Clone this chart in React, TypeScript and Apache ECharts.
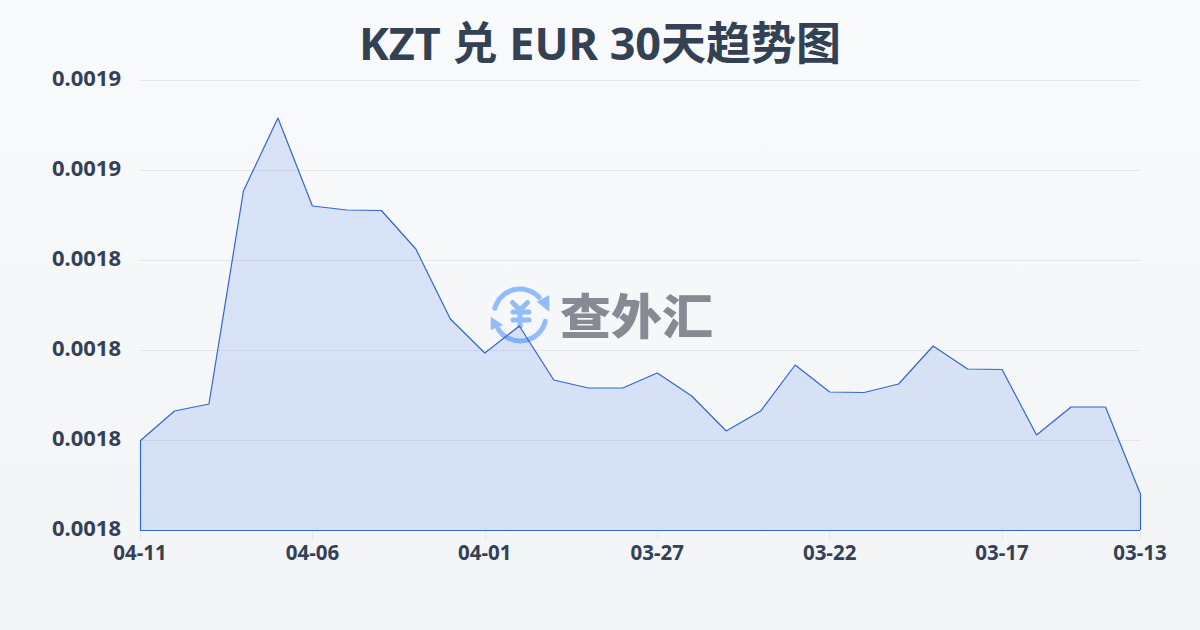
import React, { useEffect, useRef } from "react";
import * as echarts from "echarts";

const titleText = "KZT 兑 EUR 30天趋势图";
const watermarkText = "查外汇";
const dates = ["04-11","04-10","04-09","04-08","04-07","04-06","04-05","04-04","04-03","04-02","04-01","03-31","03-30","03-29","03-28","03-27","03-26","03-25","03-24","03-23","03-22","03-21","03-20","03-19","03-18","03-17","03-16","03-15","03-14","03-13"];
const rates = [0.00179978,0.00180644,0.001808,0.00185533,0.00187156,0.001852,0.00185111,0.001851,0.00184244,0.00182689,0.00181933,0.00182533,0.00181333,0.00181156,0.00181156,0.00181489,0.00180978,0.001802,0.00180644,0.00181667,0.00181067,0.00181056,0.00181244,0.00182089,0.00181578,0.00181567,0.00180111,0.00180733,0.00180733,0.00178822];
const yMin = 0.00178;
const yMax = 0.00188;
const yStep = 0.00002;

const FONT = "'Noto Sans','Noto Sans CJK SC',sans-serif";
const TEXT = "#334155";
const LINE = "#3366cc";
const LOGO = "#93bcfb";
const showTick = (i: number) => i % 5 === 0 || i === dates.length - 1;

const closure = (a: [string, number], b: [string, number]) => [
  { xAxis: a[0], yAxis: a[1] },
  { xAxis: b[0], yAxis: b[1] },
];

export default function App() {
  const ref = useRef<HTMLDivElement>(null);
  useEffect(() => {
    document.body.style.margin = "0";
    const chart = echarts.init(ref.current!, undefined, { renderer: "svg" });
    chart.setOption({
      animation: false,
      backgroundColor: {
        type: "linear", x: 0, y: 0, x2: 0, y2: 1,
        colorStops: [{ offset: 0, color: "#f8fafc" }, { offset: 1, color: "#f3f4f6" }],
      },
      title: {
        text: titleText, left: "center", top: 15,
        textStyle: { fontFamily: FONT, fontSize: 45, fontWeight: "bold", color: TEXT },
      },
      grid: { left: 140, right: 60, top: 80, bottom: 100 },
      xAxis: {
        type: "category", data: dates, boundaryGap: false,
        axisLine: { show: false },
        axisTick: { show: true, length: 10, interval: (i: number) => showTick(i), lineStyle: { color: "#e5e7eb" } },
        axisLabel: {
          interval: (i: number) => showTick(i), margin: 12, showMaxLabel: true,
          fontFamily: FONT, fontSize: 20.5, fontWeight: "bold", color: TEXT,
        },
        splitLine: { show: false },
      },
      yAxis: {
        type: "value", min: yMin, max: yMax, interval: yStep,
        axisLine: { show: false }, axisTick: { show: false },
        axisLabel: {
          margin: 19, verticalAlign: "bottom", lineHeight: 6, formatter: (v: number) => v.toFixed(4),
          fontFamily: FONT, fontSize: 22, fontWeight: "bold", color: TEXT,
        },
        splitLine: { lineStyle: { color: "#e5e7eb", width: 1 } },
      },
      series: [{
        type: "line", data: rates, symbol: "none", z: 3,
        lineStyle: { color: LINE, width: 1.2 },
        areaStyle: { color: "#2563eb", opacity: 0.14 },
        markLine: {
          silent: true, symbol: "none", label: { show: false },
          lineStyle: { color: LINE, width: 1.2, type: "solid" },
          data: [
            closure([dates[0], yMin], [dates[0], rates[0]]),
            closure([dates[0], yMin], [dates[dates.length - 1], yMin]),
            closure([dates[dates.length - 1], yMin], [dates[dates.length - 1], rates[rates.length - 1]]),
          ],
        },
      }],
      graphic: [{
        type: "group", z: 1, silent: true,
        children: [
          { type: "arc", shape: { cx: 520, cy: 315, r: 26, startAngle: 195 * Math.PI / 180, endAngle: 317 * Math.PI / 180, clockwise: true }, style: { stroke: LOGO, lineWidth: 5, lineCap: "round", fill: "none" } },
          { type: "arc", shape: { cx: 520, cy: 315, r: 26, startAngle: 14 * Math.PI / 180, endAngle: 147 * Math.PI / 180, clockwise: true }, style: { stroke: LOGO, lineWidth: 5, lineCap: "round", fill: "none" } },
          { type: "polygon", shape: { points: [[536.7, 301.7], [549.3, 295], [549.3, 311.7]] }, style: { fill: LOGO } },
          { type: "polygon", shape: { points: [[490.7, 316.7], [490.7, 330], [503.3, 325]] }, style: { fill: LOGO } },
          { type: "polyline", shape: { points: [[512.5, 302.5], [520, 310], [527.5, 302.5]] }, style: { stroke: LOGO, lineWidth: 5, lineCap: "round", fill: "none" } },
          { type: "line", shape: { x1: 513, y1: 312, x2: 529, y2: 312 }, style: { stroke: LOGO, lineWidth: 5, lineCap: "round" } },
          { type: "line", shape: { x1: 513, y1: 320, x2: 529, y2: 320 }, style: { stroke: LOGO, lineWidth: 5, lineCap: "round" } },
          { type: "line", shape: { x1: 520, y1: 310, x2: 520, y2: 328 }, style: { stroke: LOGO, lineWidth: 5 } },
          { type: "text", x: 560, y: 313, scaleY: 0.94, style: { text: watermarkText, font: `900 51px 'Noto Sans CJK SC'`, fill: "#868a92", textAlign: "left", textVerticalAlign: "middle" } },
        ],
      }],
    });
    return () => chart.dispose();
  }, []);
  return <div ref={ref} style={{ width: 1200, height: 630 }} />;
}
